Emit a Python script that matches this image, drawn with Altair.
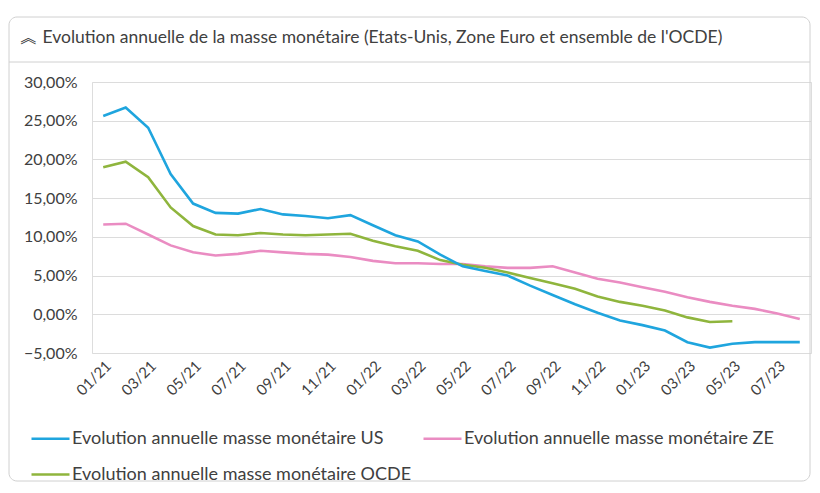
import altair as alt
import pandas as pd

months = ["01/21", "02/21", "03/21", "04/21", "05/21", "06/21", "07/21", "08/21",
          "09/21", "10/21", "11/21", "12/21", "01/22", "02/22", "03/22", "04/22",
          "05/22", "06/22", "07/22", "08/22", "09/22", "10/22", "11/22", "12/22",
          "01/23", "02/23", "03/23", "04/23", "05/23", "06/23", "07/23", "08/23"]

us = [25.6, 26.7, 24.1, 18.1, 14.3, 13.1, 13.0, 13.6, 12.9, 12.7, 12.4, 12.8,
      11.5, 10.2, 9.4, 7.7, 6.2, 5.6, 5.0, 3.7, 2.5, 1.3, 0.2, -0.8,
      -1.4, -2.1, -3.6, -4.3, -3.8, -3.6, -3.6, -3.6]

ze = [11.6, 11.7, 10.3, 8.9, 8.0, 7.6, 7.8, 8.2, 8.0, 7.8, 7.7, 7.4,
      6.9, 6.6, 6.6, 6.5, 6.5, 6.2, 6.0, 6.0, 6.2, 5.4, 4.6, 4.1,
      3.5, 2.9, 2.2, 1.6, 1.1, 0.7, 0.1, -0.6]

ocde = [19.0, 19.7, 17.7, 13.8, 11.4, 10.3, 10.2, 10.5, 10.3, 10.2, 10.3, 10.4,
        9.5, 8.8, 8.2, 7.0, 6.4, 6.0, 5.4, 4.7, 4.0, 3.3, 2.3, 1.6,
        1.1, 0.5, -0.4, -1.0, -0.9]

name_us = "Evolution annuelle masse monétaire US"
name_ze = "Evolution annuelle masse monétaire ZE"
name_ocde = "Evolution annuelle masse monétaire OCDE"
# legend fills column by column: US / OCDE in the first column, ZE in the second
legend_order = [name_us, name_ocde, name_ze]
legend_colors = ["#1fa5de", "#8fb53d", "#ea8cc2"]

title_text = "︽  Evolution annuelle de la masse monétaire (Etats-Unis, Zone Euro et ensemble de l'OCDE)"
y_ticks = [-5, 0, 5, 10, 15, 20, 25, 30]

rows = []
for name, vals in [(name_ze, ze), (name_ocde, ocde), (name_us, us)]:
    for m, v in zip(months, vals):
        rows.append({"mois": m, "serie": name, "valeur": v})
df = pd.DataFrame(rows)

FONT = "Lato"
TXT = "#404040"
W, H = 719, 271

lines = alt.Chart(df).mark_line(strokeWidth=2.6).encode(
    x=alt.X("mois:O", sort=months,
            scale=alt.Scale(type="point", padding=0.5),
            axis=alt.Axis(values=months[::2], labelAngle=-45, title=None,
                          domain=False, ticks=False, grid=False,
                          labelFont=FONT, labelFontSize=15, labelColor=TXT,
                          labelPadding=5)),
    y=alt.Y("valeur:Q", scale=alt.Scale(domain=[-5, 30], nice=False, zero=False),
            axis=alt.Axis(values=y_ticks, title=None, domain=False, ticks=False,
                          labelExpr="replace(format(datum.value, '.2f'), '.', ',') + '%'",
                          labelFont=FONT, labelFontSize=16, labelColor=TXT,
                          labelPadding=15, gridColor="#dcdcdc", gridWidth=1)),
    color=alt.Color("serie:N",
                    scale=alt.Scale(domain=legend_order, range=legend_colors),
                    legend=alt.Legend(title=None, orient="none", legendX=-62, legendY=336,
                                      columns=2, symbolType="stroke", symbolSize=1444,
                                      symbolStrokeWidth=2.5, labelFont=FONT,
                                      labelFontSize=18, labelColor=TXT, labelLimit=500,
                                      labelOffset=1, columnPadding=6, rowPadding=6)),
)

deco = pd.DataFrame({"t": [title_text]})
card = alt.Chart(deco).mark_rect(fill=None, stroke="#d0d0d0", strokeWidth=1,
                                 cornerRadius=8).encode(
    x=alt.value(-83), x2=alt.value(718), y=alt.value(-65), y2=alt.value(399))
sep = alt.Chart(deco).mark_rule(stroke="#d0d0d0", strokeWidth=1).encode(
    x=alt.value(-83), x2=alt.value(718), y=alt.value(-20))
title = alt.Chart(deco).mark_text(align="left", baseline="middle", font=FONT,
                                  fontSize=17.5, color=TXT).encode(
    text="t:N", x=alt.value(-72), y=alt.value(-44))

chart = alt.layer(card, sep, title, lines).properties(
    width=W, height=H,
    autosize=alt.AutoSizeParams(type="none"),
    padding={"left": 84, "top": 74, "right": 1, "bottom": 132},
).configure_view(stroke=None).configure(background="white")

chart.save("out.html", embed_options={"renderer": "svg", "actions": False})
